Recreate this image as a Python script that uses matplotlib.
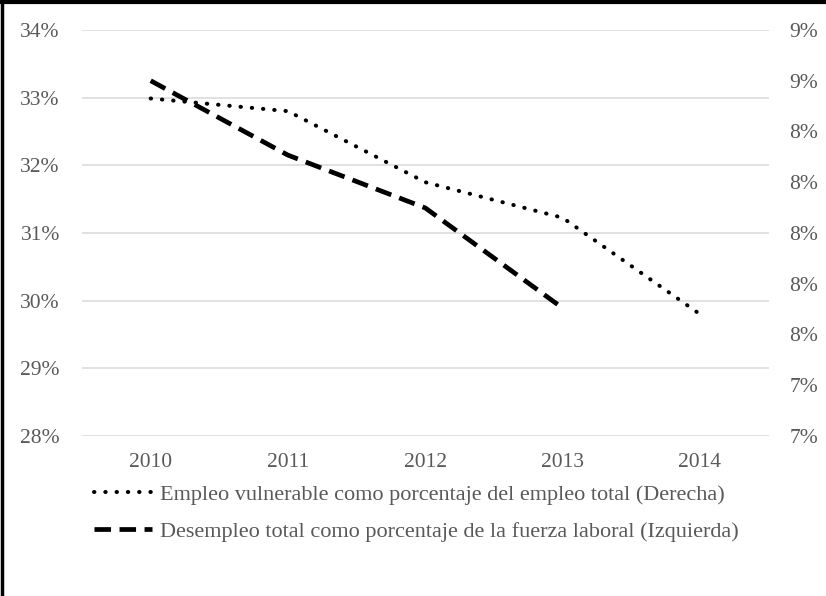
import numpy as np
from matplotlib import pyplot as plt
from matplotlib.lines import Line2D
from matplotlib.ticker import FuncFormatter

plt.rcParams['font.family'] = ['Liberation Serif', 'DejaVu Serif']

# Datos
years = ['2010', '2011', '2012', '2013', '2014']
# Desempleo total (% fuerza laboral), eje izquierdo
desempleo = [33.25, 32.15, 31.37, 29.89]
# Empleo vulnerable (% empleo total), eje derecho
vulnerable = [8.53, 8.48, 8.20, 8.06, 7.68]

left_ticks = [28, 29, 30, 31, 32, 33, 34]
right_ticks = [7.2, 7.4, 7.6, 7.8, 8.0, 8.2, 8.4, 8.6, 8.8]

label_vul = 'Empleo vulnerable como porcentaje del empleo total (Derecha)'
label_des = 'Desempleo total como porcentaje de la fuerza laboral (Izquierda)'

txt_color = '#595959'
grid_color = '#d9d9d9'

figure = plt.figure(figsize=(8.26, 5.96), dpi=100)
ax = figure.add_axes([0.0993, 0.2685, 0.8312, 0.6812])
ax2 = ax.twinx()

x = np.arange(len(years))

ax.set_ylim(left_ticks[0], left_ticks[-1])
ax.set_yticks(left_ticks)
ax.yaxis.set_major_formatter(FuncFormatter(lambda v, p: '%d%%' % round(v)))
ax.set_xlim(-0.5, len(years) - 0.5)
ax.set_xticks(x)
ax.set_xticklabels(years)
ax.grid(axis='y', color=grid_color, linewidth=1.1)
ax.set_axisbelow(True)

ax2.set_ylim(right_ticks[0], right_ticks[-1])
ax2.set_yticks(right_ticks)
ax2.yaxis.set_major_formatter(FuncFormatter(lambda v, p: '%d%%' % int(v + 0.5 + 1e-9)))

for a in (ax, ax2):
    for s in a.spines.values():
        s.set_visible(False)
    a.tick_params(length=0, labelsize=15.5, labelcolor=txt_color)
ax.tick_params(axis='y', pad=16)
ax.tick_params(axis='x', pad=12)
ax2.tick_params(axis='y', pad=15)

l_des, = ax.plot(x[:len(desempleo)], desempleo, color='black', linewidth=3.4,
                 linestyle=(0, (3.5, 1.8)), dash_capstyle='butt')
l_vul, = ax2.plot(x, vulnerable, color='black', linewidth=2.9,
                  linestyle=(0, (0.1, 2.7)), dash_capstyle='round')

leg = figure.legend([l_vul, l_des], [label_vul, label_des], loc='upper left',
                    bbox_to_anchor=(0.103, 0.202), frameon=False, fontsize=16,
                    labelcolor=txt_color, handlelength=2.6, handletextpad=0.35,
                    labelspacing=0.75, borderaxespad=0)

# Marco superior e izquierdo
figure.add_artist(Line2D([0, 1], [0.997, 0.997], color='black', linewidth=3,
                         transform=figure.transFigure))
figure.add_artist(Line2D([0.002, 0.002], [0, 1], color='black', linewidth=2.5,
                         transform=figure.transFigure))

figure.savefig('out.png', dpi=100)
